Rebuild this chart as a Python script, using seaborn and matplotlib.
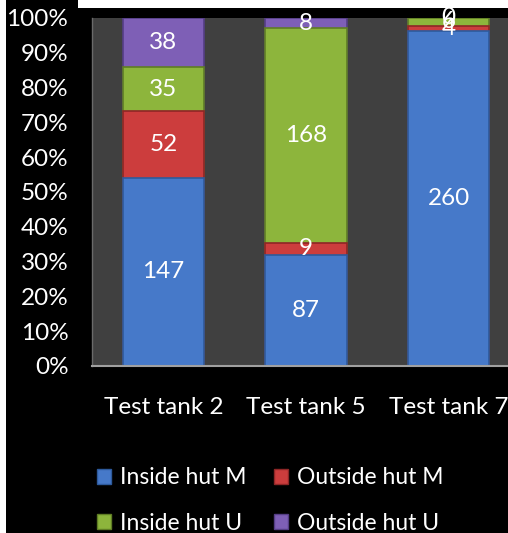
import numpy as np
import pandas as pd
import matplotlib
matplotlib.use("Agg")
import matplotlib.pyplot as plt
from matplotlib.patches import Patch, Rectangle
import seaborn as sns

# counts per tank
tanks = ["Test tank 2", "Test tank 5", "Test tank 7"]
series = ["Inside hut M", "Outside hut M", "Inside hut U", "Outside hut U"]
inside_m = [147, 87, 260]
outside_m = [52, 9, 4]
inside_u = [35, 168, 6]
outside_u = [38, 8, 0]
ytick_labels = ["0%", "10%", "20%", "30%", "40%", "50%", "60%", "70%", "80%", "90%", "100%"]

colors = {"Inside hut M": "#4679c9", "Outside hut M": "#cc3d3d",
          "Inside hut U": "#8db53c", "Outside hut U": "#7e5fb6"}
edges = {"Inside hut M": "#2d5a9c", "Outside hut M": "#8e2626",
         "Inside hut U": "#5f7d24", "Outside hut U": "#553e85"}

sns.set_style("dark")
plt.rcParams["font.family"] = ["Lato", "DejaVu Sans"]
fs = 17.5

counts = pd.DataFrame({"Inside hut M": inside_m, "Outside hut M": outside_m,
                       "Inside hut U": inside_u, "Outside hut U": outside_u}, index=tanks)
pct = counts.div(counts.sum(axis=1), axis=0) * 100
cum = pct.cumsum(axis=1)

fig = plt.figure(figsize=(5.08, 5.33), dpi=100, facecolor="black")
ax = fig.add_axes([92 / 508, 1 - 366 / 533, 428 / 508, 348 / 533])
ax.set_facecolor("#404040")

# draw cumulative bars back to front
for s in reversed(series):
    df = pd.DataFrame({"tank": tanks, "val": cum[s].values})
    sns.barplot(data=df, x="tank", y="val", ax=ax, color=colors[s],
                width=0.57, edgecolor=edges[s], linewidth=1.2, saturation=1)

# value labels in the middle of each segment
for i, t in enumerate(tanks):
    prev = 0
    for s in series:
        mid = prev + pct.loc[t, s] / 2
        ax.text(i, mid, str(counts.loc[t, s]), color="white", fontsize=fs,
                ha="center", va="center")
        prev = cum.loc[t, s]

ax.set_xlim(-0.5, 2.5)
ax.set_ylim(0, 100)
ax.set_yticks(np.arange(0, 101, 10), labels=ytick_labels)
ax.tick_params(axis="y", length=0, pad=17, colors="white", labelsize=fs)
ax.tick_params(axis="x", length=0, pad=22, colors="white", labelsize=fs)
ax.set_xlabel("")
ax.set_ylabel("")
ax.grid(False)
for side in ["top", "right"]:
    ax.spines[side].set_visible(False)
ax.spines["bottom"].set_visible(True)
ax.spines["bottom"].set_color("#a0a0a0")
ax.spines["bottom"].set_linewidth(1.5)
ax.spines["left"].set_visible(True)
ax.spines["left"].set_color("#6a6a6a")
ax.spines["left"].set_linewidth(1)

# legend, filled column by column
order = ["Inside hut M", "Inside hut U", "Outside hut M", "Outside hut U"]
handles = [Patch(facecolor=colors[s], edgecolor=edges[s], label=s) for s in order]
fig.legend(handles=handles, loc="upper left", bbox_to_anchor=(86 / 508, 1 - 456 / 533),
           ncol=2, frameon=False, fontsize=16.5, labelcolor="white",
           handlelength=0.6, handleheight=0.6, handletextpad=0.4,
           columnspacing=1.2, labelspacing=1.05, borderpad=0)

# white border strips of the original screenshot
fig.add_artist(Rectangle((0, 0), 6 / 508, 1, transform=fig.transFigure,
                         facecolor="white", edgecolor="none"))
fig.add_artist(Rectangle((78 / 508, 1 - 8 / 533), 1, 8 / 533, transform=fig.transFigure,
                         facecolor="white", edgecolor="none"))

fig.savefig("out.png", dpi=100, facecolor="black")
